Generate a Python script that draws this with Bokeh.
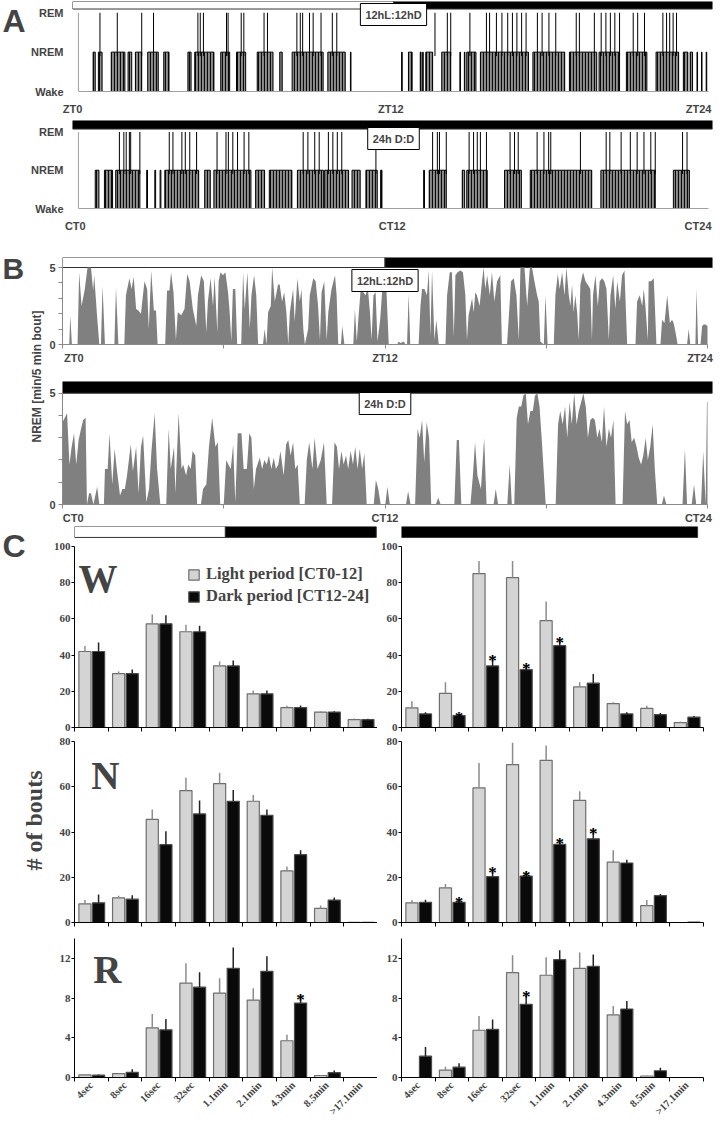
import math
from bokeh.plotting import figure
from bokeh.layouts import column, row
from bokeh.models import Range1d, FixedTicker, Label, Legend, LegendItem
from bokeh.embed import file_html
from bokeh.resources import INLINE
from bokeh.core.properties import value

SERIF = "Liberation Serif"
SANS = "Liberation Sans"

# ---------------- data ----------------
hour_ticks = [0, 6, 12, 18, 24]
zt_labels = ["ZT0", "ZT12", "ZT24"]
ct_labels = ["CT0", "CT12", "CT24"]
state_ticks = [0, 1, 2]
state_labels = ["Wake", "NREM", "REM"]

ld_phase_start = [0, 12]
ld_phase_end = [12, 24]
ld_phase_color = ["white", "black"]
dd_phase_start = [0]
dd_phase_end = [24]
dd_phase_color = ["black"]

# Panel A: hypnograms (hours)
LD_nrem_start = [0.56, 0.76, 1.25, 1.89, 2.17, 2.64, 3.25, 4.17, 4.43, 5.42, 6.02, 6.81, 7.67, 8.14, 9.50, 10.36,
                 12.31, 12.57, 13.02, 13.11, 13.23, 13.84, 14.53, 14.70, 14.79, 15.31, 17.31, 18.70, 19.83, 20.87,
                 22.00, 23.04, 23.30, 23.56, 23.73, 23.91]
LD_nrem_end = [0.64, 0.90, 1.77, 2.03, 2.41, 3.04, 3.45, 4.29, 5.16, 5.76, 6.37, 7.41, 7.76, 9.32, 10.16, 10.38,
               12.33, 12.71, 13.05, 13.13, 13.49, 14.18, 14.55, 14.72, 15.14, 17.14, 18.52, 19.74, 20.61, 21.65,
               22.86, 23.21, 23.39, 23.58, 23.75, 23.93]
LD_rem = [0.82, 1.48, 2.41, 2.86, 4.55, 4.64, 4.76, 5.64, 5.70, 6.20, 6.30, 7.07, 7.20, 8.32, 8.45, 8.54, 8.80, 8.94,
          9.24, 9.67, 9.84, 13.58, 14.05, 14.18, 14.91, 15.54, 15.66, 15.92, 16.13, 16.35, 16.53, 16.70, 16.88,
          17.05, 17.48, 17.66, 17.92, 18.18, 18.96, 19.08, 19.65, 19.91, 20.09, 20.26, 20.43, 20.61, 21.13, 21.30,
          21.56, 22.26, 22.40, 22.52, 22.65, 22.78]

DD_nrem_start = [0.64, 0.99, 1.42, 2.60, 2.91, 3.11, 3.29, 4.81, 5.16, 6.75, 7.27, 8.34, 9.38, 10.42, 10.95, 11.51,
                 13.15, 13.36, 14.62, 14.79, 16.23, 17.21, 19.90, 22.66]
DD_nrem_end = [0.78, 1.30, 2.34, 2.63, 2.94, 3.14, 4.58, 5.02, 6.57, 7.09, 8.13, 9.34, 10.29, 10.73, 11.38, 11.56,
               13.18, 14.01, 14.71, 15.57, 16.87, 19.55, 21.97, 23.27]
DD_rem = [1.56, 1.73, 1.82, 1.94, 1.99, 2.34, 3.46, 3.60, 3.94, 4.07, 4.24, 4.50, 5.28, 5.62, 5.71, 5.88, 6.06, 6.31,
          6.49, 8.56, 8.74, 9.00, 9.17, 9.52, 9.69, 9.86, 10.03, 11.33, 13.49, 13.67, 13.75, 14.01, 14.88, 15.05,
          15.19, 15.31, 15.54, 16.44, 16.61, 16.75, 17.47, 17.73, 17.91, 17.99, 19.12, 20.10, 20.24, 20.67, 21.02,
          21.28, 21.54, 21.80, 21.97, 23.01, 23.18]

# Panel B: NREM minutes per 5-min bout
B_LD_hour = [0.0, 0.25, 0.29, 0.35, 0.56, 0.62, 0.71, 0.83, 0.93, 1.06, 1.14, 1.18, 1.28, 1.37, 1.43, 1.49, 1.58,
             1.93, 1.99, 2.08, 2.30, 2.36, 2.49, 2.57, 2.65, 2.74, 2.82, 2.92, 3.05, 3.15, 3.21, 3.30, 3.40, 3.48,
             3.54, 3.82, 3.89, 3.98, 4.04, 4.13, 4.22, 4.29, 4.42, 4.54, 4.64, 4.73, 4.85, 4.98, 5.04, 5.16, 5.26,
             5.35, 5.41, 5.51, 5.60, 5.66, 5.76, 5.81, 5.88, 5.97, 6.06, 6.16, 6.22, 6.28, 6.34, 6.43, 6.50, 6.65,
             6.72, 6.78, 6.88, 6.97, 7.03, 7.13, 7.21, 7.28, 7.46, 7.52, 7.59, 7.65, 7.75, 7.80, 7.90, 8.02, 8.08,
             8.17, 8.25, 8.33, 8.40, 8.46, 8.58, 8.64, 8.74, 8.83, 8.89, 8.96, 9.02, 9.14, 9.20, 9.33, 9.42, 9.51,
             9.58, 9.64, 9.74, 9.83, 9.89, 10.01, 10.14, 10.20, 10.26, 10.36, 10.41, 10.49, 10.82, 10.88, 10.95,
             11.01, 11.11, 11.19, 11.28, 11.36, 11.44, 11.50, 11.57, 11.65, 11.72, 11.82, 11.94, 12.04, 12.14,
             12.45, 12.51, 12.57, 12.70, 12.76, 12.82, 12.88, 12.94, 13.25, 13.32, 13.38, 13.47, 13.56, 13.63,
             13.69, 13.75, 13.84, 13.91, 14.00, 14.25, 14.31, 14.41, 14.49, 14.56, 14.62, 14.70, 14.80, 14.90,
             14.99, 15.05, 15.11, 15.24, 15.30, 15.36, 15.42, 15.52, 15.61, 15.67, 15.73, 15.80, 15.90, 15.98,
             16.07, 16.17, 16.29, 16.35, 16.54, 16.60, 16.69, 16.79, 16.89, 16.98, 17.04, 17.10, 17.19, 17.29,
             17.39, 17.47, 17.56, 17.66, 17.72, 17.78, 17.91, 17.97, 18.05, 18.28, 18.34, 18.43, 18.50, 18.59,
             18.68, 18.75, 18.84, 18.90, 18.96, 19.02, 19.08, 19.15, 19.21, 19.27, 19.37, 19.46, 19.54, 19.64,
             19.70, 19.74, 19.83, 19.92, 19.99, 20.08, 20.16, 20.24, 20.33, 20.39, 20.49, 20.57, 20.64, 20.74,
             20.82, 20.91, 21.01, 21.32, 21.38, 21.48, 21.57, 21.63, 21.69, 21.78, 21.81, 21.90, 22.00, 22.10,
             22.25, 22.31, 22.40, 22.50, 22.60, 22.68, 22.74, 22.81, 22.89, 23.24, 23.30, 23.36, 23.55, 23.59,
             23.65, 23.74, 23.80, 23.86, 23.92, 24.0]
B_LD_nrem = [0, 0, 1.9, 0, 0, 4.7, 2.5, 3.6, 5.0, 5.0, 3.5, 4.5, 2.0, 0, 0, 3.8, 0,
             0, 3.7, 0, 0, 3.2, 4.3, 3.6, 4.4, 2.3, 2.2, 2.0, 4.1, 3.6, 1.0, 4.8, 2.2, 2.2,
             0, 0, 3.5, 3.5, 4.7, 3.4, 0.3, 2.1, 1.9, 2.3, 4.6, 4.1, 2.3, 1.2, 3.2, 4.5, 4.1,
             0.8, 2.8, 4.3, 2.5, 4.4, 0.8, 4.1, 4.7, 4.5, 4.7, 3.4, 2.1, 0.2, 3.6, 3.6, 0, 0,
             4.7, 2.3, 4.7, 1.0, 3.2, 4.5, 3.2, 0, 0, 1.0, 0, 2.1, 2.5, 5.0, 2.8, 3.9, 3.9,
             2.8, 3.4, 2.1, 0, 2.1, 3.6, 1.5, 4.3, 2.8, 3.6, 1.0, 0, 1.0, 3.2, 4.3, 4.1, 2.5,
             0.3, 3.4, 4.1, 0.3, 2.1, 3.6, 4.5, 3.2, 0, 0, 1.2, 0, 0, 2.3, 0.2,
             1.7, 3.9, 3.4, 3.2, 3.7, 2.1, 0.3, 3.2, 3.4, 0.2, 1.6, 4.6, 4.1, 0,
             0, 0.2, 0.1, 0.2, 0, 0, 3.3, 0, 0, 2.5, 3.6, 3.6, 3.2, 4.8,
             0.5, 4.8, 0.3, 1.6, 0, 0, 3.2, 4.7, 4.7, 0.5, 4.5, 4.7, 4.8, 4.7,
             3.2, 0.3, 1.9, 3.0, 2.1, 3.4, 3.2, 2.5, 4.1, 5.0, 3.6, 4.5, 3.2, 4.7,
             2.8, 4.1, 4.5, 0, 0, 1.6, 4.1, 4.3, 3.2, 0.3, 5.0, 5.0, 5.0, 2.5,
             5.0, 5.0, 4.1, 3.2, 2.8, 0.2, 0, 3.2, 0, 0, 3.2, 4.6, 3.6, 4.7,
             3.2, 5.0, 3.2, 2.5, 3.9, 2.1, 3.2, 2.1, 0.3, 3.9, 4.7, 4.1, 3.9, 3.6,
             0.3, 3.2, 4.5, 2.5, 4.1, 4.3, 4.1, 3.6, 0.3, 3.2, 4.5, 2.3, 4.1, 2.8,
             4.5, 4.8, 0, 0, 2.8, 3.2, 2.5, 3.6, 2.5, 0.3, 4.1, 4.1, 4.3, 0,
             0, 1.6, 1.4, 3.2, 1.4, 1.6, 1.4, 0.8, 0, 0, 1.0, 0, 0, 3.6,
             0, 0, 1.2, 1.3, 1.3, 1.2]

B_DD_hour = [0.0, 0.17, 0.26, 0.34, 0.43, 0.51, 0.60, 0.69, 0.77, 0.86, 0.91, 0.99, 1.06, 1.15, 1.29, 1.37, 1.54,
             1.58, 1.68, 1.75, 1.85, 1.94, 2.02, 2.14, 2.23, 2.32, 2.40, 2.54, 2.62, 2.74, 2.83, 2.92, 3.00, 3.12,
             3.22, 3.31, 3.43, 3.52, 3.64, 3.86, 3.95, 4.03, 4.15, 4.20, 4.32, 4.43, 4.49, 4.60, 4.68, 4.77, 4.84,
             4.94, 5.01, 5.15, 5.23, 5.35, 5.45, 5.57, 5.69, 5.78, 5.87, 6.00, 6.09, 6.17, 6.26, 6.35, 6.43, 6.52,
             6.66, 6.74, 6.86, 6.95, 7.03, 7.12, 7.20, 7.34, 7.43, 7.51, 7.60, 7.68, 7.77, 7.86, 7.94, 8.03, 8.11,
             8.23, 8.32, 8.40, 8.49, 8.58, 8.66, 8.75, 8.83, 9.01, 9.09, 9.18, 9.30, 9.38, 9.49, 9.61, 9.73, 9.83,
             10.03, 10.12, 10.21, 10.29, 10.38, 10.46, 10.55, 10.63, 10.72, 10.81, 10.89, 10.98, 11.06, 11.15,
             11.23, 11.32, 11.58, 11.66, 11.75, 11.84, 12.01, 12.09, 12.18, 12.78, 12.86, 12.95, 13.12, 13.21,
             13.29, 13.38, 13.46, 13.55, 13.64, 13.72, 13.89, 13.98, 14.07, 14.58, 14.67, 14.75, 14.84, 15.18,
             15.27, 15.35, 15.44, 15.57, 15.69, 15.78, 16.04, 16.12, 16.21, 16.55, 16.64, 16.72, 16.81, 16.90,
             16.98, 17.07, 17.15, 17.24, 17.32, 17.41, 17.50, 17.58, 17.67, 17.75, 17.84, 17.98, 18.35, 18.44,
             18.52, 18.61, 18.70, 18.78, 18.87, 18.95, 19.04, 19.13, 19.21, 19.30, 19.38, 19.47, 19.55, 19.64,
             19.73, 19.81, 19.90, 19.98, 20.07, 20.15, 20.24, 20.33, 20.41, 20.50, 20.58, 20.84, 20.93, 21.01,
             21.10, 21.18, 21.27, 21.36, 21.44, 21.53, 21.61, 21.70, 21.78, 21.87, 21.96, 22.04, 22.13, 22.30,
             22.38, 22.47, 23.07, 23.16, 23.24, 23.41, 23.50, 23.58, 23.76, 23.84, 23.93, 23.98, 24.0]
B_DD_nrem = [3.7, 4.1, 1.8, 2.6, 3.2, 1.8, 2.9, 3.4, 3.8, 3.9, 0, 0.5, 0.5, 0, 0.8, 0, 0,
             1.6, 1.6, 3.2, 0.9, 2.5, 1.6, 0.4, 0.7, 0.7, 1.3, 2.7, 1.5, 2.6, 0.5, 2.6, 3.1, 0.1,
             0.7, 2.4, 4.1, 1.6, 0, 0, 3.4, 1.6, 2.6, 0.5, 4.1, 1.6, 1.8, 1.3, 1.8, 1.6, 2.4,
             2.2, 0, 0, 0.7, 0.9, 2.6, 3.9, 2.6, 2.8, 0, 0, 2.0, 1.8, 1.6, 2.7, 0.1, 3.2,
             3.2, 1.6, 1.6, 3.2, 3.0, 0.7, 1.6, 2.1, 1.6, 2.0, 1.8, 2.2, 1.6, 2.1, 1.6, 1.8, 2.4,
             1.3, 2.7, 2.9, 2.2, 2.8, 1.6, 1.8, 0, 0, 2.0, 2.8, 1.6, 3.0, 1.6, 2.0, 2.8, 0,
             0, 2.8, 2.6, 1.6, 2.4, 1.8, 2.2, 1.6, 2.4, 1.8, 2.6, 1.6, 2.5, 1.6,
             2.3, 0, 0, 1.1, 0.7, 0, 0, 0.8, 0, 0, 0.6, 0, 0, 3.4,
             3.0, 3.8, 1.9, 3.7, 3.0, 0, 0, 0.3, 0, 0, 2.9, 2.9, 0, 0,
             1.3, 2.8, 1.3, 0.7, 3.0, 0, 0, 0.7, 0, 0, 1.8, 0, 0, 3.9,
             4.4, 4.4, 4.9, 5.0, 3.6, 4.2, 4.2, 4.9, 5.0, 4.4, 2.8, 0, 0, 3.6,
             4.2, 3.6, 4.4, 3.0, 4.6, 3.6, 5.0, 3.6, 4.2, 4.6, 5.0, 4.4, 3.0, 3.8,
             3.9, 3.8, 3.0, 3.4, 2.8, 4.4, 2.6, 3.4, 3.0, 3.8, 0, 0, 4.2, 3.6,
             3.8, 2.8, 3.0, 2.6, 2.1, 1.8, 2.2, 3.0, 2.0, 2.6, 3.6, 1.6, 0, 0,
             0.4, 0, 0, 2.5, 0, 0, 0.9, 0, 0, 2.4, 0, 4.6, 4.6]

# Panel C: number of bouts
categories = ["4sec", "8sec", "16sec", "32sec", "1.1min", "2.1min", "4.3min", "8.5min", ">17.1min"]

W_LD_light = [42.0, 29.8, 57.3, 52.9, 34.0, 18.6, 11.0, 8.5, 4.4]
W_LD_light_err = [3.0, 1.2, 5.1, 3.8, 2.4, 1.8, 1.0, 0.5, 0.6]
W_LD_dark = [42.0, 29.8, 57.3, 52.9, 34.0, 18.6, 11.0, 8.5, 4.4]
W_LD_dark_err = [5.0, 2.2, 4.7, 3.3, 3.0, 1.8, 1.2, 0.5, 0.5]
W_LD_sig = [0, 0, 0, 0, 0, 0, 0, 0, 0]

W_DD_light = [10.8, 18.9, 85.0, 82.8, 59.0, 22.4, 13.2, 10.6, 2.7]
W_DD_light_err = [3.7, 6.1, 7.0, 9.2, 10.6, 2.6, 0.8, 1.4, 0.6]
W_DD_dark = [7.5, 6.6, 34.0, 32.0, 45.2, 24.5, 7.5, 7.1, 5.7]
W_DD_dark_err = [0.9, 0.9, 5.5, 2.6, 3.8, 5.0, 0.9, 0.9, 0.7]
W_DD_sig = [0, 1, 1, 1, 1, 0, 0, 0, 0]

N_LD_light = [8.2, 10.9, 45.6, 58.3, 61.4, 53.6, 22.8, 6.2, 0.1]
N_LD_light_err = [1.8, 0.9, 4.3, 5.7, 4.8, 2.8, 1.9, 1.3, 0.0]
N_LD_dark = [8.7, 10.3, 34.4, 48.0, 53.6, 47.4, 30.0, 9.9, 0.1]
N_LD_dark_err = [3.7, 1.7, 5.9, 5.9, 5.0, 2.6, 1.9, 1.1, 0.0]
N_LD_sig = [0, 0, 0, 0, 0, 0, 0, 0, 0]

N_DD_light = [8.7, 15.3, 59.5, 69.8, 71.7, 54.0, 26.7, 7.5, 0.0]
N_DD_light_err = [1.2, 1.7, 11.0, 9.6, 6.5, 4.0, 5.2, 2.4, 0.0]
N_DD_dark = [8.9, 8.9, 20.3, 20.5, 34.5, 37.0, 26.3, 11.9, 0.2]
N_DD_dark_err = [1.2, 1.6, 3.5, 1.8, 2.2, 4.3, 1.4, 0.7, 0.0]
N_DD_sig = [0, 1, 1, 1, 1, 1, 0, 0, 0]

R_LD_light = [0.26, 0.39, 5.0, 9.5, 8.5, 7.8, 3.7, 0.2, 0.0]
R_LD_light_err = [0.05, 0.05, 1.4, 2.0, 1.5, 1.2, 0.6, 0.05, 0.0]
R_LD_dark = [0.23, 0.52, 4.8, 9.1, 11.0, 10.7, 7.5, 0.5, 0.0]
R_LD_dark_err = [0.08, 0.3, 1.1, 1.5, 2.1, 1.5, 0.8, 0.2, 0.0]
R_LD_sig = [0, 0, 0, 0, 0, 0, 1, 0, 0]

R_DD_light = [0.0, 0.75, 4.76, 10.56, 10.3, 11.0, 6.3, 0.15, 0.0]
R_DD_light_err = [0.0, 0.33, 1.44, 1.76, 1.8, 1.6, 0.9, 0.05, 0.0]
R_DD_dark = [2.15, 1.04, 4.86, 7.37, 11.87, 11.2, 6.9, 0.68, 0.0]
R_DD_dark_err = [0.91, 0.39, 0.98, 1.15, 0.95, 1.2, 0.8, 0.3, 0.0]
R_DD_sig = [0, 0, 0, 1, 0, 0, 0, 0, 0]

legend_labels = ["Light period [CT0-12]", "Dark period [CT12-24]"]
panel_letters = ["W", "N", "R"]

# label anchor positions (hours) for the time-axis texts
A_LD_label_pos = [-0.226, 11.9, 23.62]
A_DD_label_pos = [-0.12, 11.95, 23.6]
B_LD_label_pos = [0.42, 12.0, 23.72]
B_DD_label_pos = [0.40, 12.0, 23.66]


# ---------------- helpers ----------------
def bare_fig(width, height, xr, yr, l, r, t, b, **kw):
    p = figure(width=width, height=height, x_range=xr, y_range=yr,
               output_backend="svg", toolbar_location=None,
               min_border_left=l, min_border_right=r, min_border_top=t, min_border_bottom=b, **kw)
    p.outline_line_color = None
    p.background_fill_color = "white"
    p.border_fill_color = "white"
    p.xgrid.visible = False
    p.ygrid.visible = False
    return p


def strip_fig(width, height):
    p = figure(width=width, height=height, x_range=Range1d(0, 1), y_range=Range1d(0, 1), output_backend="svg",
               toolbar_location=None, x_axis_type=None, y_axis_type=None, min_border=0)
    p.outline_line_color = None
    p.xgrid.visible = False
    p.ygrid.visible = False
    return p


def phase_bar(p, starts, ends, colors, bottom, top, x_range_name="default"):
    lefts = list(starts)
    rights = list(ends)
    if x_range_name == "default":
        lefts[0] = p.x_range.start
        rights[-1] = p.x_range.end
    p.quad(left=lefts, right=rights, bottom=bottom, top=top, fill_color=colors,
           line_color="#333333", line_width=1, x_range_name=x_range_name)


def label(p, text, x, y, align="center", baseline="middle", font=SANS, size="11px", angle=0):
    p.add_layout(Label(x=x, y=y, x_units="screen", y_units="screen", text=text, text_align=align,
                       text_baseline=baseline, angle=angle, text_font=font, text_font_size=size,
                       text_font_style="bold"))


def box_label(p, text, x, y):
    p.add_layout(Label(x=x, y=y, x_units="data", y_units="screen", text=text, text_align="center",
                       text_baseline="middle", text_font=SANS, text_font_size="11px", text_font_style="bold",
                       border_line_color="black", border_line_width=1, background_fill_color="white",
                       padding=5))


def style_axis(ax, font, size, standoff, line_color):
    ax.axis_line_color = line_color
    ax.major_label_text_font = font
    ax.major_label_text_font_style = "bold"
    ax.major_label_text_font_size = size
    ax.major_label_standoff = standoff


# ---------------- panel A ----------------
def hypno_fig(height, top_pad, bottom_pad, y_top, bar_bottom, starts, ends, rems, phase, labels, label_pos,
              box, box_y):
    p = bare_fig(692, height, Range1d(-0.226, 24.15), Range1d(0, y_top), 37, 8, top_pad, bottom_pad)
    phase_bar(p, phase[0], phase[1], phase[2], bar_bottom, y_top)
    p.quad(left=starts, right=ends, bottom=0, top=1, fill_color="#8e8e8e", line_color="black", line_width=1,
           hatch_pattern="|", hatch_color="#0a0a0a", hatch_scale=3, hatch_weight=1.2)
    p.segment(x0=rems, y0=[0.9] * len(rems), x1=rems, y1=[2] * len(rems), line_color="black", line_width=1)
    # y-axis line at time zero
    p.segment(x0=[0], y0=[0], x1=[0], y1=[2], line_color="#a0a0a0", line_width=1)
    ya = p.yaxis[0]
    ya.ticker = FixedTicker(ticks=state_ticks)
    ya.major_label_overrides = dict(zip(state_ticks, state_labels))
    ya.major_tick_line_color = None
    ya.minor_tick_line_color = None
    style_axis(ya, SANS, "11px", 3, None)
    xa = p.xaxis[0]
    xa.ticker = FixedTicker(ticks=label_pos)
    xa.major_label_overrides = dict(zip(label_pos, labels))
    xa.bounds = (0, 24)
    xa.major_tick_line_color = None
    xa.minor_tick_line_color = None
    style_axis(xa, SANS, "11px", 5, "#a0a0a0")
    box_label(p, box, 12, box_y)
    return p


pA1 = hypno_fig(117, 1, 20, 2.286, 2.095, LD_nrem_start, LD_nrem_end, LD_rem,
                (ld_phase_start, ld_phase_end, ld_phase_color), zt_labels, A_LD_label_pos, "12hL:12hD", 77)
pA2 = hypno_fig(117, 3, 23, 2.30, 2.076, DD_nrem_start, DD_nrem_end, DD_rem,
                (dd_phase_start, dd_phase_end, dd_phase_color), ct_labels, A_DD_label_pos, "24h D:D", 70)
pAlab = strip_fig(28, 234)
label(pAlab, "A", 2, 214, align="left", size="32px")


# ---------------- panel B ----------------
def nrem_fig(height, top_pad, bottom_pad, y_top, hours, vals, phase, labels, label_pos, box, box_y):
    p = bare_fig(674, height, Range1d(0, 24.186), Range1d(0, y_top), 16, 8, top_pad, bottom_pad)
    phase_bar(p, phase[0], phase[1], phase[2], 5.0, y_top)
    p.varea(x=hours, y1=[0] * len(vals), y2=vals, fill_color="#808080")
    ya = p.yaxis[0]
    ya.ticker = FixedTicker(ticks=[0, 5], minor_ticks=[1, 2, 3, 4])
    ya.bounds = (0, 5)
    for a in ("major", "minor"):
        setattr(ya, a + "_tick_line_color", "#8a8a8a")
        setattr(ya, a + "_tick_out", 4)
        setattr(ya, a + "_tick_in", 0)
    style_axis(ya, SANS, "11px", 3, "#8a8a8a")
    xa = p.xaxis[0]
    xa.ticker = FixedTicker(ticks=label_pos, minor_ticks=hour_ticks)
    xa.major_label_overrides = dict(zip(label_pos, labels))
    xa.bounds = (0, 24)
    xa.major_tick_line_color = None
    xa.minor_tick_line_color = "#8a8a8a"
    xa.minor_tick_out = 4
    xa.minor_tick_in = 0
    style_axis(xa, SANS, "11px", 1, "#8a8a8a")
    box_label(p, box, 12, box_y)
    return p


pB1 = nrem_fig(132, 23, 22, 5.65, B_LD_hour, B_LD_nrem, (ld_phase_start, ld_phase_end, ld_phase_color),
               zt_labels, B_LD_label_pos, "12hL:12hD", 64)
pB2 = nrem_fig(160, 15, 19, 5.526, B_DD_hour, B_DD_nrem, (dd_phase_start, dd_phase_end, dd_phase_color),
               ct_labels, B_DD_label_pos, "24h D:D", 101)
pBlab = strip_fig(46, 292)
label(pBlab, "B", 2, 258, align="left", size="30px")
label(pBlab, "NREM [min/5 min bout]", 36, 150, angle=math.pi / 2, size="12px")


# ---------------- panel C ----------------
def bar_fig(width, height, l, r, t, b, y_top, y_max, y_ticks, light, light_err, dark, dark_err, sig,
            show_labels, phase=None, hours_end=24.1):
    p = bare_fig(width, height, Range1d(0, 9), Range1d(0, y_top), l, r, t, b)
    xl = [i + 0.31 for i in range(len(categories))]
    xd = [i + 0.715 for i in range(len(categories))]
    rl = p.vbar(x=xl, top=light, width=0.36, fill_color="#d4d4d4", line_color="#6e6e6e", line_width=1.2)
    rd = p.vbar(x=xd, top=dark, width=0.36, fill_color="#0a0a0a", line_color="#4a4a4a", line_width=1.2)
    p.segment(x0=xl, y0=light, x1=xl, y1=[a + e for a, e in zip(light, light_err)],
              line_color="#8c8c8c", line_width=1.5)
    p.segment(x0=xd, y0=dark, x1=xd, y1=[a + e for a, e in zip(dark, dark_err)],
              line_color="#222222", line_width=1.5)
    sx = [x for x, s in zip(xd, sig) if s]
    sy = [a + e for a, e, s in zip(dark, dark_err, sig) if s]
    if sx:
        p.text(x=sx, y=sy, text=["*"] * len(sx), text_align="center", text_baseline="alphabetic",
               y_offset=4, text_color="black", text_font=value(SERIF), text_font_size="17px",
               text_font_style="bold")
    if phase is not None:
        p.extra_x_ranges = {"hours": Range1d(0, hours_end)}
        phase_bar(p, phase[0], phase[1], phase[2], 105.0, y_top, x_range_name="hours")
    ya = p.yaxis[0]
    ya.ticker = FixedTicker(ticks=y_ticks)
    ya.bounds = (0, y_max)
    ya.major_tick_line_color = "black"
    ya.major_tick_out = 3
    ya.major_tick_in = 0
    ya.minor_tick_line_color = None
    style_axis(ya, SERIF, "11px", 1, "black")
    xa = p.xaxis[0]
    centers = [i + 0.5 for i in range(len(categories))]
    bounds = list(range(len(categories) + 1))
    xa.major_tick_line_color = None
    xa.minor_tick_line_color = "black"
    xa.minor_tick_out = 4
    xa.minor_tick_in = 0
    if show_labels:
        xa.ticker = FixedTicker(ticks=centers, minor_ticks=bounds)
        xa.major_label_overrides = dict(zip(centers, categories))
        xa.major_label_orientation = math.pi / 4
    else:
        xa.ticker = FixedTicker(ticks=[], minor_ticks=bounds)
    style_axis(xa, SERIF, "10.5px", 0, "black")
    return p, rl, rd


# left column (LD)
pWL, rl, rd = bar_fig(327, 207, 21, 0, 0, 6, 111.05, 100, [0, 20, 40, 60, 80, 100],
                      W_LD_light, W_LD_light_err, W_LD_dark, W_LD_dark_err, W_LD_sig, False,
                      (ld_phase_start, ld_phase_end, ld_phase_color), 24.1)
pNL, _, _ = bar_fig(327, 197, 21, 0, 8, 8, 80, 80, [0, 20, 40, 60, 80],
                    N_LD_light, N_LD_light_err, N_LD_dark, N_LD_dark_err, N_LD_sig, False)
pRL, _, _ = bar_fig(327, 193, 21, 0, 8, 43, 14, 14, [0, 4, 8, 12],
                    R_LD_light, R_LD_light_err, R_LD_dark, R_LD_dark_err, R_LD_sig, True)
# right column (DD)
pWR, _, _ = bar_fig(343, 207, 21, 17, 0, 6, 111.05, 100, [0, 20, 40, 60, 80, 100],
                    W_DD_light, W_DD_light_err, W_DD_dark, W_DD_dark_err, W_DD_sig, False,
                    (dd_phase_start, dd_phase_end, dd_phase_color), 24.48)
pNR, _, _ = bar_fig(343, 197, 21, 17, 8, 8, 80, 80, [0, 20, 40, 60, 80],
                    N_DD_light, N_DD_light_err, N_DD_dark, N_DD_dark_err, N_DD_sig, False)
pRR, _, _ = bar_fig(343, 193, 21, 17, 8, 43, 14, 14, [0, 4, 8, 12],
                    R_DD_light, R_DD_light_err, R_DD_dark, R_DD_dark_err, R_DD_sig, True)

legend = Legend(items=[LegendItem(label=legend_labels[0], renderers=[rl]),
                       LegendItem(label=legend_labels[1], renderers=[rd])],
                location=(113, 121), glyph_width=13, glyph_height=13, label_height=20, spacing=2,
                padding=0, margin=0, label_standoff=6, border_line_color=None, background_fill_alpha=0,
                label_text_font=SERIF, label_text_font_style="bold", label_text_font_size="16.5px")
pWL.add_layout(legend)

for p, letter, lx, ly in [(pWL, panel_letters[0], 0.12, 82.3), (pNL, panel_letters[1], 0.5, 64.9),
                          (pRL, panel_letters[2], 0.56, 10.85)]:
    p.add_layout(Label(x=lx, y=ly, text=letter, text_align="left", text_baseline="alphabetic",
                       text_font=SERIF, text_font_size="39px", text_font_style="bold"))

pClab = strip_fig(50, 597)
label(pClab, "C", 2, 578, align="left", size="32px")
label(pClab, "# of bouts", 33, 303, angle=math.pi / 2, font=SERIF, size="24px")

layout = column(
    row(pAlab, column(pA1, pA2)),
    row(pBlab, column(pB1, pB2)),
    row(pClab, column(pWL, pNL, pRL), column(pWR, pNR, pRR)),
)

open("out.html", "w").write(file_html(layout, INLINE))
